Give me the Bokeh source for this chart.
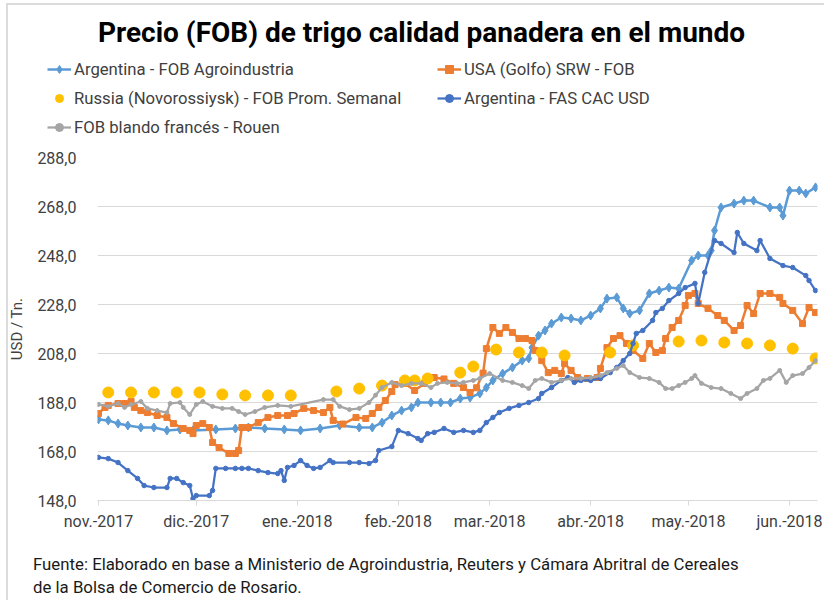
import pandas as pd
from bokeh.plotting import figure
from bokeh.models import FixedTicker, Legend, LegendItem, Range1d, Div, Label
from bokeh.layouts import column
from bokeh.embed import file_html
from bokeh.resources import INLINE

# ---------------- data ----------------
origen = "2017-11-01"

x_tick_fechas = ["2017-11-01", "2017-12-01", "2018-01-01", "2018-02-01",
                 "2018-03-01", "2018-04-01", "2018-05-01", "2018-06-01"]
x_tick_labels = ["nov.-2017", "dic.-2017", "ene.-2018", "feb.-2018",
                 "mar.-2018", "abr.-2018", "may.-2018", "jun.-2018"]
y_ticks = [148, 168, 188, 208, 228, 248, 268, 288]
y_tick_labels = ["148,0", "168,0", "188,0", "208,0", "228,0", "248,0", "268,0", "288,0"]

# Argentina - FOB Agroindustria
arg_fob_fechas = [
    "2017-11-01", "2017-11-04", "2017-11-07", "2017-11-10", "2017-11-14", "2017-11-18",
    "2017-11-22", "2017-11-26", "2017-11-30",
    "2017-12-07", "2017-12-13", "2017-12-17", "2017-12-22", "2017-12-28",
    "2018-01-02", "2018-01-08", "2018-01-14", "2018-01-20", "2018-01-24", "2018-01-27",
    "2018-01-30",
    "2018-02-02", "2018-02-05", "2018-02-07", "2018-02-11", "2018-02-14", "2018-02-17",
    "2018-02-20", "2018-02-23", "2018-02-26", "2018-02-28",
    "2018-03-02", "2018-03-05", "2018-03-08", "2018-03-11", "2018-03-13", "2018-03-14",
    "2018-03-16", "2018-03-18", "2018-03-20", "2018-03-23", "2018-03-26", "2018-03-29",
    "2018-04-01", "2018-04-04", "2018-04-06", "2018-04-09", "2018-04-11", "2018-04-13",
    "2018-04-16", "2018-04-19", "2018-04-22", "2018-04-25", "2018-04-28",
    "2018-05-02", "2018-05-04", "2018-05-07", "2018-05-08", "2018-05-09", "2018-05-11",
    "2018-05-15", "2018-05-18", "2018-05-21", "2018-05-26", "2018-05-29", "2018-05-30",
    "2018-06-01", "2018-06-04", "2018-06-06", "2018-06-09"]
arg_fob_valores = [
    181.1, 180.7, 179.4, 178.6, 177.8, 177.8,
    176.6, 177.0, 176.6,
    177.0, 177.4, 177.8, 177.4, 177.0,
    176.6, 177.4, 178.6, 177.8, 177.8, 179.8,
    182.7,
    184.7, 186.0, 188.0, 188.0, 188.0, 188.0,
    189.6, 190.0, 191.7, 194.1,
    197.0, 199.8, 202.3, 205.1, 206.0, 210.4,
    215.3, 217.4, 220.2, 222.7, 222.3, 221.5,
    223.5, 226.4, 230.4, 230.9, 226.4, 224.3,
    225.6, 232.5, 233.7, 234.9, 234.5,
    246.0, 248.0, 248.0, 250.0, 258.2, 267.6,
    269.2, 270.4, 270.4, 267.6, 267.6, 264.3,
    274.5, 274.5, 273.3, 275.8]

# USA (Golfo) SRW - FOB
usa_fechas = [
    "2017-11-01", "2017-11-03", "2017-11-04", "2017-11-07", "2017-11-09", "2017-11-11",
    "2017-11-12", "2017-11-14", "2017-11-16", "2017-11-19", "2017-11-22", "2017-11-24",
    "2017-11-27", "2017-11-29", "2017-11-30",
    "2017-12-01", "2017-12-03", "2017-12-05", "2017-12-06", "2017-12-08", "2017-12-11",
    "2017-12-13", "2017-12-14", "2017-12-15", "2017-12-17", "2017-12-20", "2017-12-23",
    "2017-12-26", "2017-12-29", "2017-12-31",
    "2018-01-03", "2018-01-06", "2018-01-09", "2018-01-11", "2018-01-12", "2018-01-15",
    "2018-01-19", "2018-01-22", "2018-01-24", "2018-01-26", "2018-01-28", "2018-01-30",
    "2018-01-31",
    "2018-02-03", "2018-02-06", "2018-02-09", "2018-02-12", "2018-02-15", "2018-02-18",
    "2018-02-21", "2018-02-23", "2018-02-25", "2018-02-27", "2018-02-28",
    "2018-03-02", "2018-03-04", "2018-03-06", "2018-03-08", "2018-03-10", "2018-03-12",
    "2018-03-14", "2018-03-15", "2018-03-17", "2018-03-19", "2018-03-21", "2018-03-23",
    "2018-03-24", "2018-03-26", "2018-03-28", "2018-03-31",
    "2018-04-03", "2018-04-04", "2018-04-06", "2018-04-08", "2018-04-10", "2018-04-12",
    "2018-04-14", "2018-04-17", "2018-04-19", "2018-04-21", "2018-04-23", "2018-04-24",
    "2018-04-26", "2018-04-28", "2018-04-30",
    "2018-05-01", "2018-05-03", "2018-05-04", "2018-05-07", "2018-05-10", "2018-05-12",
    "2018-05-15", "2018-05-17", "2018-05-19", "2018-05-21", "2018-05-23", "2018-05-26",
    "2018-05-29", "2018-05-30",
    "2018-06-02", "2018-06-05", "2018-06-07", "2018-06-09"]
usa_valores = [
    183.5, 186.0, 186.8, 187.6, 187.6, 188.4,
    186.0, 184.7, 183.9, 182.7, 181.9, 179.4,
    177.4, 176.6, 175.3,
    178.6, 179.4, 177.8, 171.7, 169.6, 167.2,
    167.2, 168.4, 177.8, 177.8, 179.8, 181.9,
    182.7, 182.7, 183.5,
    185.6, 184.7, 183.9, 186.0, 180.7, 179.2,
    181.9, 181.5, 183.5, 186.0, 188.8, 192.5,
    195.3,
    195.8, 192.9, 195.8, 198.2, 197.6, 195.8,
    194.1, 192.1, 194.0, 200.0, 210.0,
    218.6, 216.2, 218.6, 216.6, 214.1, 214.1,
    213.3, 209.2, 205.1, 200.2, 201.1, 199.8,
    203.9, 201.1, 198.2, 197.8,
    198.2, 201.9, 210.4, 214.1, 215.3, 212.1,
    209.2, 206.0, 212.1, 208.4, 209.2, 214.1,
    218.6, 221.5, 227.6,
    231.7, 232.5, 228.4, 226.4, 223.5, 221.5,
    217.4, 219.4, 227.6, 224.3, 232.5, 232.5,
    230.9, 228.4,
    225.6, 220.2, 226.8, 224.7]

# Russia (Novorossiysk) - FOB Prom. Semanal
rusia_fechas = [
    "2017-11-04", "2017-11-11", "2017-11-18", "2017-11-25", "2017-12-02", "2017-12-09",
    "2017-12-16", "2017-12-23", "2017-12-30", "2018-01-13", "2018-01-20", "2018-01-27",
    "2018-02-03", "2018-02-06", "2018-02-10", "2018-02-20", "2018-02-24", "2018-03-03",
    "2018-03-10", "2018-03-17", "2018-03-24", "2018-04-07", "2018-04-14", "2018-04-28",
    "2018-05-05", "2018-05-12", "2018-05-19", "2018-05-26", "2018-06-02", "2018-06-09"]
rusia_valores = [
    192.1, 192.1, 192.1, 192.1, 192.1, 191.3,
    190.9, 190.9, 190.9, 192.5, 193.7, 194.9,
    197.0, 197.0, 197.8, 200.2, 202.7, 209.6,
    208.4, 208.4, 207.2, 208.4, 211.3, 212.9,
    213.3, 212.5, 212.1, 211.3, 210.0, 206.0]

# Argentina - FAS CAC USD
arg_fas_fechas = [
    "2017-11-01", "2017-11-04", "2017-11-07", "2017-11-10", "2017-11-13", "2017-11-15",
    "2017-11-18", "2017-11-22", "2017-11-23", "2017-11-25", "2017-11-27", "2017-11-29",
    "2017-11-30",
    "2017-12-01", "2017-12-05", "2017-12-06", "2017-12-07", "2017-12-10", "2017-12-13",
    "2017-12-15", "2017-12-17", "2017-12-20", "2017-12-23", "2017-12-26", "2017-12-27",
    "2017-12-28", "2017-12-29", "2017-12-31",
    "2018-01-02", "2018-01-04", "2018-01-06", "2018-01-08", "2018-01-11", "2018-01-12",
    "2018-01-17", "2018-01-20", "2018-01-23", "2018-01-25", "2018-01-26", "2018-01-30",
    "2018-02-01", "2018-02-04", "2018-02-07", "2018-02-08", "2018-02-10", "2018-02-12",
    "2018-02-15", "2018-02-18", "2018-02-21", "2018-02-24", "2018-02-26", "2018-02-28",
    "2018-03-02", "2018-03-04", "2018-03-07", "2018-03-10", "2018-03-13", "2018-03-16",
    "2018-03-17", "2018-03-20", "2018-03-23", "2018-03-25", "2018-03-27", "2018-03-29",
    "2018-04-01", "2018-04-04", "2018-04-07", "2018-04-09", "2018-04-11", "2018-04-13",
    "2018-04-14", "2018-04-15", "2018-04-17", "2018-04-20", "2018-04-21", "2018-04-23",
    "2018-04-25", "2018-04-28", "2018-04-30",
    "2018-05-03", "2018-05-04", "2018-05-06", "2018-05-09", "2018-05-11", "2018-05-15",
    "2018-05-16", "2018-05-18", "2018-05-22", "2018-05-23", "2018-05-26", "2018-05-30",
    "2018-06-02", "2018-06-06", "2018-06-07", "2018-06-09"]
arg_fas_valores = [
    165.6, 165.1, 163.5, 160.2, 157.0, 154.1,
    153.3, 153.3, 157.0, 157.0, 155.3, 154.1,
    148.8,
    150.0, 150.0, 152.1, 161.1, 161.1, 161.1,
    161.1, 161.1, 160.2, 159.4, 159.0, 160.2,
    156.2, 161.5, 162.3,
    164.3, 162.3, 161.1, 161.5, 164.3, 163.5,
    163.5, 163.5, 163.1, 164.3, 168.4, 170.0,
    176.6, 175.3, 173.3, 172.5, 175.3, 175.8,
    177.4, 175.8, 176.6, 175.8, 176.6, 179.8,
    181.9, 183.9, 185.6, 186.8, 188.0, 189.6,
    191.7, 194.1, 197.0, 198.2, 196.2, 197.0,
    197.0, 197.8, 200.2, 202.3, 205.1, 208.0,
    212.1, 216.2, 217.4, 221.5, 224.7, 226.4,
    229.6, 232.5, 234.9,
    236.6, 228.4, 241.1, 254.1, 252.9, 249.2,
    257.4, 252.9, 250.0, 254.1, 246.8, 243.9,
    243.1, 239.8, 237.8, 233.7]

# FOB blando francés - Rouen
rouen_fechas = [
    "2017-11-01", "2017-11-04", "2017-11-07", "2017-11-09", "2017-11-11", "2017-11-14",
    "2017-11-16", "2017-11-19", "2017-11-22", "2017-11-23", "2017-11-26", "2017-11-27",
    "2017-11-29",
    "2017-12-01", "2017-12-03", "2017-12-06", "2017-12-09", "2017-12-12", "2017-12-14",
    "2017-12-16", "2017-12-19", "2017-12-22", "2017-12-26", "2017-12-30",
    "2018-01-09", "2018-01-12", "2018-01-14", "2018-01-17", "2018-01-20", "2018-01-23",
    "2018-01-25", "2018-01-27", "2018-01-30",
    "2018-02-02", "2018-02-05", "2018-02-08", "2018-02-11", "2018-02-13", "2018-02-16",
    "2018-02-19", "2018-02-21", "2018-02-24", "2018-02-26",
    "2018-03-01", "2018-03-05", "2018-03-08", "2018-03-11", "2018-03-13", "2018-03-15",
    "2018-03-17", "2018-03-20", "2018-03-23", "2018-03-26", "2018-03-29",
    "2018-04-01", "2018-04-04", "2018-04-06", "2018-04-09", "2018-04-11", "2018-04-13",
    "2018-04-16", "2018-04-19", "2018-04-22", "2018-04-24", "2018-04-26", "2018-04-28",
    "2018-04-30",
    "2018-05-02", "2018-05-03", "2018-05-05", "2018-05-08", "2018-05-11", "2018-05-14",
    "2018-05-17", "2018-05-19", "2018-05-22", "2018-05-24", "2018-05-26", "2018-05-29",
    "2018-05-31",
    "2018-06-02", "2018-06-05", "2018-06-07", "2018-06-09"]
rouen_valores = [
    187.2, 186.4, 187.6, 186.0, 187.2, 188.4,
    185.6, 184.7, 183.9, 187.6, 188.0, 186.0,
    183.1,
    187.2, 188.4, 186.4, 185.6, 185.6, 184.3,
    183.1, 184.3, 186.0, 186.8, 186.4,
    189.2, 189.2, 186.4, 185.1, 185.6, 188.0,
    191.0, 194.1, 196.2,
    194.9, 195.8, 195.8, 194.1, 195.8, 196.2,
    195.8, 196.2, 197.0, 197.8,
    199.8, 197.0, 196.2, 194.9, 193.7, 197.0,
    197.8, 196.2, 197.0, 197.8, 197.8,
    198.2, 199.0, 200.2, 201.9, 203.1, 200.2,
    198.2, 197.8, 196.2, 193.7, 193.7, 194.9,
    196.2,
    197.8, 199.0, 195.8, 194.1, 193.7, 191.7,
    189.6, 191.7, 193.7, 197.0, 197.8, 201.1,
    196.2,
    199.0, 199.8, 202.3, 205.1]

series_nombres = ["Argentina - FOB Agroindustria", "USA (Golfo) SRW - FOB",
                  "Russia (Novorossiysk) - FOB Prom. Semanal", "Argentina - FAS CAC USD",
                  "FOB blando francés - Rouen"]
titulo = "Precio (FOB) de trigo calidad panadera en el mundo"
eje_y = "USD / Tn."
fuente_1 = "Fuente: Elaborado en base a Ministerio de Agroindustria, Reuters y Cámara Abritral de Cereales"
fuente_2 = "de la Bolsa de Comercio de Rosario."

# ---------------- helpers / styles ----------------
t0 = pd.Timestamp(origen)


def dias(fechas):
    return [(pd.Timestamp(f) - t0).days for f in fechas]


FONT = "Roboto"
TXT = "#404040"
C_AFOB = "#5B9BD5"
C_USA = "#ED7D31"
C_RUS = "#FFC000"
C_AFAS = "#4472C4"
C_ROU = "#A5A5A5"

# series: (fechas, valores, color, line width or None, marker, marker size)
series = [
    (arg_fob_fechas, arg_fob_valores, C_AFOB, 2.5, "diamond", 9),
    (usa_fechas, usa_valores, C_USA, 2.5, "square", 6),
    (rusia_fechas, rusia_valores, C_RUS, None, "circle", 11),
    (arg_fas_fechas, arg_fas_valores, C_AFAS, 2.25, "circle", 4.5),
    (rouen_fechas, rouen_valores, C_ROU, 2.25, "circle", 4),
]

W = 824
HEAD_H = 145

# ---------------- header: title + legend ----------------
head = figure(width=W, height=HEAD_H, output_backend="svg", toolbar_location=None,
              x_range=Range1d(0, W), y_range=Range1d(0, HEAD_H),
              x_axis_location=None, y_axis_location=None, min_border=0)
if "frame_align" in head.properties():
    head.frame_align = False
head.outline_line_color = None
head.background_fill_color = None
head.border_fill_color = None
head.xgrid.visible = False
head.ygrid.visible = False

head.add_layout(Label(x=421, y=HEAD_H - 32, text=titulo, text_align="center",
                      text_baseline="middle", text_font=FONT, text_font_style="bold",
                      text_font_size="28px", text_color="black"))

# legend renderers: the same series, which lie outside this header's y range
items = []
for (f, v, c, lw, mk, ms), name in zip(series, series_nombres):
    rs = []
    if lw is not None:
        rs.append(head.line(dias(f), v, line_color=c, line_width=lw))
    rs.append(head.scatter(dias(f), v, marker=mk, size=ms + 1, fill_color=c, line_color=c))
    items.append(LegendItem(label=name, renderers=rs))

legend = Legend(items=items, location=(47, 8), orientation="horizontal", ncols=2,
                glyph_width=24, glyph_height=20, label_height=20, label_width=354,
                spacing=9, padding=0, margin=0, label_standoff=3,
                border_line_color=None, background_fill_alpha=0,
                label_text_font=FONT, label_text_font_size="16.7px",
                label_text_color=TXT)
head.add_layout(legend, "center")

# ---------------- main chart ----------------
p = figure(width=W, height=400, output_backend="svg", toolbar_location=None,
           x_range=Range1d(-0.3, 220.6), y_range=Range1d(148, 288),
           min_border_left=97, min_border_right=7, min_border_top=12,
           min_border_bottom=45)
p.outline_line_color = None
p.background_fill_color = "white"
p.border_fill_color = None

xa = p.xaxis[0]
xt = dias(x_tick_fechas)
xa.ticker = FixedTicker(ticks=xt)
xa.major_label_overrides = {d: lab for d, lab in zip(xt, x_tick_labels)}
xa.axis_line_color = "#D9D9D9"
xa.major_tick_line_color = "#D9D9D9"
xa.major_tick_out = 5
xa.major_tick_in = 0
xa.minor_tick_line_color = None
xa.major_label_standoff = 6
xa.major_label_text_font = FONT
xa.major_label_text_font_size = "16px"
xa.major_label_text_color = TXT

ya = p.yaxis[0]
ya.ticker = FixedTicker(ticks=y_ticks)
ya.major_label_overrides = {v: lab for v, lab in zip(y_ticks, y_tick_labels)}
ya.axis_line_color = None
ya.major_tick_line_color = None
ya.minor_tick_line_color = None
ya.major_tick_out = 0
ya.major_tick_in = 0
ya.major_label_standoff = 21
ya.major_label_text_font = FONT
ya.major_label_text_font_size = "16px"
ya.major_label_text_color = TXT
ya.axis_label = eje_y
ya.axis_label_text_font = FONT
ya.axis_label_text_font_style = "normal"
ya.axis_label_text_font_size = "15px"
ya.axis_label_text_color = TXT
ya.axis_label_standoff = 8

p.xgrid.grid_line_color = None
p.ygrid.grid_line_color = "#D9D9D9"
p.ygrid.grid_line_width = 1

for f, v, c, lw, mk, ms in series:
    if lw is not None:
        p.line(dias(f), v, line_color=c, line_width=lw)
    p.scatter(dias(f), v, marker=mk, size=ms, fill_color=c, line_color=c)

# ---------------- footer ----------------
pie = Div(text=fuente_1 + "<br>" + fuente_2, width=W, height=55, margin=0,
          styles={"font-family": FONT, "font-size": "16.8px", "line-height": "23px",
                  "color": "#1a1a1a", "padding-left": "33px", "padding-top": "8px",
                  "box-sizing": "border-box"})

# thin chart-area frame at the left and top edges, as in the original picture
marco = {
    "background-color": "white",
    "background-image": "linear-gradient(#DCDCDC, #DCDCDC), linear-gradient(#DCDCDC, #DCDCDC)",
    "background-size": "2px 100%, 100% 2px",
    "background-position": "6px 3px, 6px 3px",
    "background-repeat": "no-repeat",
}
layout = column(head, p, pie, spacing=0, styles=marco)
open("out.html", "w").write(file_html(layout, INLINE))
